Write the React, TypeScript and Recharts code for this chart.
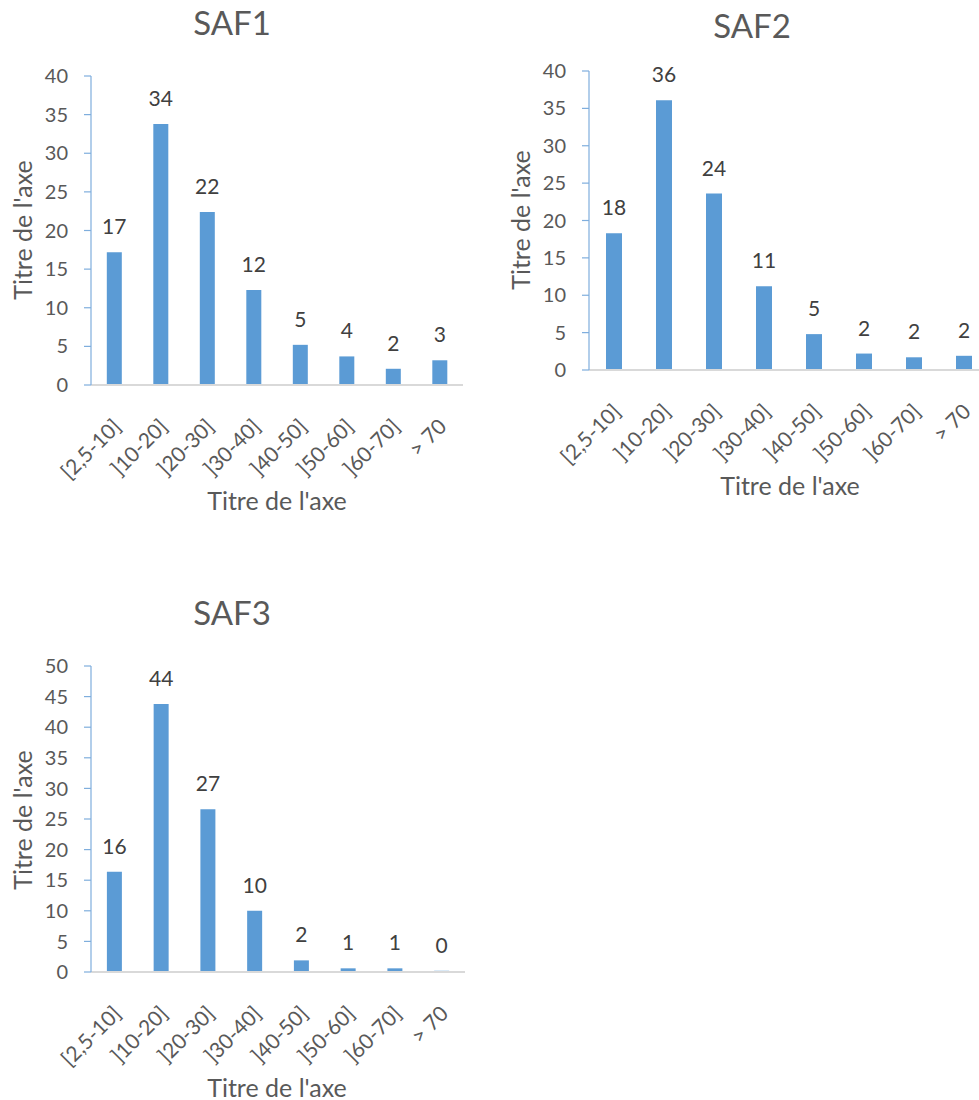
import { BarChart, Bar, XAxis, YAxis, LabelList } from "recharts";

const categories = ["[2,5-10]", "]10-20]", "]20-30]", "]30-40]", "]40-50]", "]50-60]", "]60-70]", "> 70"];
const saf1Values = [17.2, 33.8, 22.4, 12.3, 5.2, 3.7, 2.1, 3.2];
const saf2Values = [18.3, 36.1, 23.6, 11.2, 4.8, 2.2, 1.7, 1.9];
const saf3Values = [16.4, 43.8, 26.6, 10.0, 1.9, 0.6, 0.6, 0.2];
const ticksTo40 = [0, 5, 10, 15, 20, 25, 30, 35, 40];
const ticksTo50 = [0, 5, 10, 15, 20, 25, 30, 35, 40, 45, 50];
const axisTitle = "Titre de l'axe";

const FONT = "Lato, 'Open Sans', sans-serif";
const BAR = "#5B9BD5";
const TEXT = "#595959";

// tick text sits rotated -45deg, its end just right of the category centre
function CategoryTick({ x, y, payload }: any) {
  return (
    <g transform={`translate(${x + 8},${y + 35})`}>
      <text textAnchor="end" transform="rotate(-45)" fontSize={21} fill={TEXT} fontFamily={FONT}>
        {payload.value}
      </text>
    </g>
  );
}

interface PanelProps {
  title: string;
  values: number[];
  ticks: number[];
  left: number;
  top: number;
  width: number;
  height: number;
  margin: { top: number; right: number; bottom: number; left: number };
  yAxisWidth: number;
  titlePos: [number, number];
  yTitlePos: [number, number];
  xTitlePos: [number, number];
}

function SafPanel(p: PanelProps) {
  const data = categories.map((c, i) => ({ cat: c, value: p.values[i] }));
  const max = p.ticks[p.ticks.length - 1];
  const titleStyle = {
    position: "absolute" as const,
    lineHeight: 1,
    color: TEXT,
    fontFamily: FONT,
    whiteSpace: "nowrap" as const,
  };
  return (
    <div style={{ position: "absolute", left: p.left, top: p.top, width: p.width, height: p.height }}>
      <BarChart width={p.width} height={p.height} data={data} margin={p.margin} barCategoryGap="34%">
        <XAxis
          dataKey="cat"
          height={30}
          interval={0}
          tickLine={false}
          axisLine={{ stroke: "#D9D9D9", strokeWidth: 2 }}
          tick={<CategoryTick />}
        />
        <YAxis
          width={p.yAxisWidth}
          domain={[0, max]}
          ticks={p.ticks}
          interval={0}
          tickSize={7}
          tickMargin={16}
          axisLine={{ stroke: "#7FAEDD", strokeWidth: 1.2 }}
          tickLine={{ stroke: "#7FAEDD", strokeWidth: 1.2 }}
          tick={{ fill: TEXT, fontSize: 20, fontFamily: FONT }}
        />
        <Bar dataKey="value" fill={BAR} isAnimationActive={false}>
          <LabelList
            dataKey="value"
            position="top"
            offset={18}
            formatter={(v: any) => Math.round(Number(v))}
            style={{ fill: "#404040", fontSize: 21, fontFamily: FONT }}
          />
        </Bar>
      </BarChart>
      <div style={{ ...titleStyle, left: p.titlePos[0], top: p.titlePos[1], transform: "translate(-50%,-50%)", fontSize: 33 }}>
        {p.title}
      </div>
      <div
        style={{
          ...titleStyle,
          left: p.yTitlePos[0],
          top: p.yTitlePos[1],
          transform: "translate(-50%,-50%) rotate(-90deg)",
          fontSize: 25,
        }}
      >
        {axisTitle}
      </div>
      <div style={{ ...titleStyle, left: p.xTitlePos[0], top: p.xTitlePos[1], transform: "translate(-50%,-50%)", fontSize: 25 }}>
        {axisTitle}
      </div>
    </div>
  );
}

export default function App() {
  return (
    <div
      style={{
        position: "absolute",
        left: 0,
        top: 0,
        width: 979,
        height: 1100,
        overflow: "hidden",
        background: "#fff",
      }}
    >
      <SafPanel
        title="SAF1"
        values={saf1Values}
        ticks={ticksTo40}
        left={0}
        top={0}
        width={480}
        height={520}
        margin={{ top: 76, right: 17, bottom: 105, left: 0 }}
        yAxisWidth={91}
        titlePos={[232, 22]}
        yTitlePos={[22, 230]}
        xTitlePos={[277, 500]}
      />
      <SafPanel
        title="SAF2"
        values={saf2Values}
        ticks={ticksTo40}
        left={500}
        top={0}
        width={500}
        height={510}
        margin={{ top: 71, right: 11, bottom: 110, left: 0 }}
        yAxisWidth={89}
        titlePos={[252, 25]}
        yTitlePos={[20, 220]}
        xTitlePos={[290, 485]}
      />
      <SafPanel
        title="SAF3"
        values={saf3Values}
        ticks={ticksTo50}
        left={0}
        top={590}
        width={480}
        height={510}
        margin={{ top: 76, right: 15, bottom: 98, left: 0 }}
        yAxisWidth={91}
        titlePos={[232, 22]}
        yTitlePos={[22, 230]}
        xTitlePos={[277, 497]}
      />
    </div>
  );
}
